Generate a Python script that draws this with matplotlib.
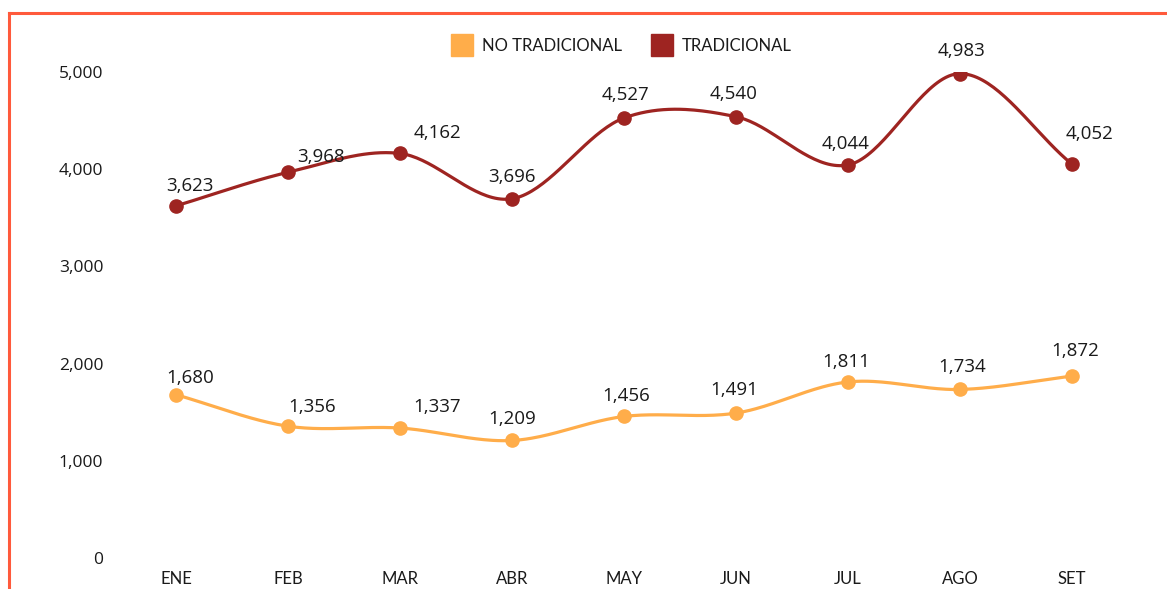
import numpy as np
import matplotlib.pyplot as plt
from matplotlib.lines import Line2D

# Datos
meses = ['ENE', 'FEB', 'MAR', 'ABR', 'MAY', 'JUN', 'JUL', 'AGO', 'SET']
no_tradicional = [1680, 1356, 1337, 1209, 1456, 1491, 1811, 1734, 1872]
tradicional = [3623, 3968, 4162, 3696, 4527, 4540, 4044, 4983, 4052]

# Desplazamiento de etiquetas (pixeles) para evitar choques con la línea
off_trad = [(14, 20), (33, 15), (37, 20), (0, 22), (2, 23), (-2, 23), (-2, 21), (2, 23), (18, 30)]
off_notrad = [(14, 17), (24, 19), (37, 21), (0, 21), (2, 20), (-2, 23), (-2, 20), (2, 22), (3, 25)]

c_notrad = '#FFAD4A'
c_trad = '#9E2421'
c_borde = '#FF5A3C'


def catmull_rom(y, n=40):
    # curva suave que pasa por los puntos (tipo Catmull-Rom)
    y = np.asarray(y, dtype=float)
    p = np.concatenate([[2 * y[0] - y[1]], y, [2 * y[-1] - y[-2]]])
    xs, ys = [], []
    for i in range(len(y) - 1):
        p0, p1, p2, p3 = p[i], p[i + 1], p[i + 2], p[i + 3]
        t = np.linspace(0, 1, n, endpoint=False)
        yy = 0.5 * ((2 * p1) + (-p0 + p2) * t + (2 * p0 - 5 * p1 + 4 * p2 - p3) * t ** 2
                    + (-p0 + 3 * p1 - 3 * p2 + p3) * t ** 3)
        xs.append(i + t)
        ys.append(yy)
    xs.append([len(y) - 1])
    ys.append([y[-1]])
    return np.concatenate(xs), np.concatenate(ys)


fig = plt.figure(figsize=(11.67, 5.89), dpi=100)
ax = fig.add_axes([120 / 1167, 31 / 589, 1008 / 1167, 486 / 589])

x = np.arange(len(meses))
for serie, color, offs in [(no_tradicional, c_notrad, off_notrad), (tradicional, c_trad, off_trad)]:
    xs, ys = catmull_rom(serie)
    ax.plot(xs, ys, color=color, linewidth=2.3, solid_capstyle='round')
    ax.plot(x, serie, 'o', color=color, markersize=9.5)
    for xi, yi, (dx, dy) in zip(x, serie, offs):
        ax.annotate(f'{yi:,}', (xi, yi), xytext=(dx, dy), textcoords='offset pixels',
                    ha='center', va='center', fontsize=13.5, family='Open Sans',
                    color='#1a1a1a', annotation_clip=False)

ax.set_xlim(-0.5, 8.5)
ax.set_ylim(0, 5000)
ax.set_yticks([0, 1000, 2000, 3000, 4000, 5000])
ax.set_yticklabels([f'{v:,}' for v in [0, 1000, 2000, 3000, 4000, 5000]],
                   family='Open Sans', fontsize=12.5, color='#1a1a1a')
ax.set_xticks(x)
ax.set_xticklabels(meses, family='Lato', fontsize=12, color='#1a1a1a')
ax.tick_params(axis='both', length=0)
ax.tick_params(axis='y', pad=12)
ax.tick_params(axis='x', pad=9)
for s in ax.spines.values():
    s.set_visible(False)

# Leyenda
h1 = Line2D([], [], marker='s', linestyle='none', color=c_notrad, markersize=16.5)
h2 = Line2D([], [], marker='s', linestyle='none', color=c_trad, markersize=16.5)
fig.legend([h1, h2], ['NO TRADICIONAL', 'TRADICIONAL'], loc='center',
           bbox_to_anchor=(621 / 1167, 1 - 46 / 589), ncol=2, frameon=False,
           prop={'family': 'Lato', 'size': 12}, handletextpad=0.5, columnspacing=1.7,
           handlelength=1.4, labelcolor='#1a1a1a')

# Marco naranja (arriba e izquierda)
fig.add_artist(Line2D([9 / 1167, 1], [1 - 13 / 589, 1 - 13 / 589], color=c_borde, linewidth=2.2))
fig.add_artist(Line2D([9 / 1167, 9 / 1167], [0, 1 - 13 / 589], color=c_borde, linewidth=2.2))

fig.savefig('out.png', dpi=100)
